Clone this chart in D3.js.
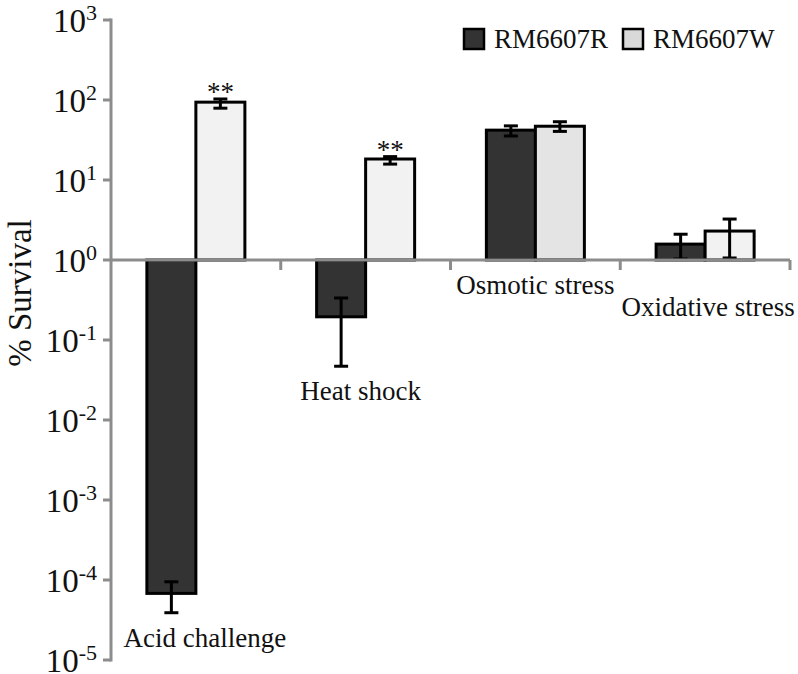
<!DOCTYPE html>
<html>
<head>
<meta charset="utf-8">
<script src="https://cdn.jsdelivr.net/npm/d3@7/dist/d3.min.js"></script>
<style>
  html, body { margin: 0; padding: 0; background: #fff; }
  svg { display: block; }
  text { font-family: "Liberation Serif", "Times New Roman", serif; fill: #111; }
</style>
</head>
<body>
<svg id="chart" width="798" height="674"></svg>
<script>
const categories = ["Acid challenge", "Heat shock", "Osmotic stress", "Oxidative stress"];
const seriesNames = ["RM6607R", "RM6607W"];
const valuesR = [6.8e-5, 0.195, 42, 1.58];
const valuesW = [94, 18.3, 47, 2.3];
const errLowR = [3.9e-5, 0.047, 35.5, 1.03];
const errHighR = [9.5e-5, 0.335, 47.5, 2.1];
const errLowW = [79, 15.8, 40.5, 1.06];
const errHighW = [103, 19.6, 53.5, 3.25];
const significanceW = ["**", "**", "", ""];
const yTickExponents = [3, 2, 1, 0, -1, -2, -3, -4, -5];

const svg = d3.select("#chart");
const axisColor = "#8c8c8c";
const darkFill = "#333333";
const lightFills = ["#f2f2f2", "#f2f2f2", "#e4e4e4", "#f2f2f2"];

const mLeft = 111, mRight = 790, mTop = 20, mBottom = 660;
const y = d3.scaleLog().domain([1e-5, 1e3]).range([mBottom, mTop]);
const x0 = d3.scaleBand().domain(categories).range([mLeft, mRight]).paddingInner(0).paddingOuter(0);
const x1 = d3.scaleBand().domain(seriesNames).range([0, x0.bandwidth()]).paddingInner(0).paddingOuter(0.732);
const base = y(1);

const rows = [];
categories.forEach((c, i) => {
  rows.push({cat: c, s: seriesNames[0], v: valuesR[i], lo: errLowR[i], hi: errHighR[i], fill: darkFill, sig: "", i});
  rows.push({cat: c, s: seriesNames[1], v: valuesW[i], lo: errLowW[i], hi: errHighW[i], fill: lightFills[i], sig: significanceW[i], i});
});

// bars
svg.append("g").selectAll("rect").data(rows).join("rect")
  .attr("x", d => x0(d.cat) + x1(d.s))
  .attr("width", x1.bandwidth())
  .attr("y", d => Math.min(y(d.v), base))
  .attr("height", d => Math.abs(y(d.v) - base))
  .attr("fill", d => d.fill)
  .attr("stroke", "#000")
  .attr("stroke-width", 3);

// error bars
const eb = svg.append("g").attr("stroke", "#000").attr("stroke-width", 3);
rows.forEach(d => {
  const cx = x0(d.cat) + x1(d.s) + x1.bandwidth() / 2;
  eb.append("line").attr("x1", cx).attr("x2", cx).attr("y1", y(d.lo)).attr("y2", y(d.hi));
  [d.lo, d.hi].forEach(v => {
    eb.append("line").attr("x1", cx - 7).attr("x2", cx + 7).attr("y1", y(v)).attr("y2", y(v));
  });
  if (d.sig) {
    svg.append("text").attr("x", cx).attr("y", y(d.hi) + 2)
      .attr("text-anchor", "middle").attr("font-size", 27).text(d.sig);
  }
});

// y axis
const ya = svg.append("g");
ya.append("line").attr("x1", mLeft).attr("x2", mLeft).attr("y1", mTop - 1.5).attr("y2", mBottom + 1.5)
  .attr("stroke", axisColor).attr("stroke-width", 3);
yTickExponents.forEach(e => {
  const ty = y(Math.pow(10, e));
  ya.append("line").attr("x1", mLeft - 8).attr("x2", mLeft).attr("y1", ty).attr("y2", ty)
    .attr("stroke", axisColor).attr("stroke-width", 3);
  const t = ya.append("text").attr("x", 97).attr("y", ty + 12).attr("text-anchor", "end").attr("font-size", 33);
  t.append("tspan").text("10");
  t.append("tspan").attr("dy", -12).attr("font-size", 22).text(String(e));
});

// x axis
const xa = svg.append("g");
xa.append("line").attr("x1", mLeft).attr("x2", mRight).attr("y1", base).attr("y2", base)
  .attr("stroke", axisColor).attr("stroke-width", 3);
categories.forEach(c => {
  const xe = x0(c) + x0.bandwidth();
  xa.append("line").attr("x1", xe).attr("x2", xe).attr("y1", base).attr("y2", base + 10)
    .attr("stroke", axisColor).attr("stroke-width", 3);
});

// category labels
categories.forEach((c, i) => {
  const lowest = Math.max(base, y(errLowR[i]), y(errLowW[i]));
  const drop = (i === categories.length - 1) ? 22 : 0;
  svg.append("text").attr("x", x0(c) + x0.bandwidth() / 2 + (i === 0 ? 9 : (i === 1 ? -5 : (i === 3 ? 3 : 0))))
    .attr("y", lowest + 34 + drop).attr("text-anchor", "middle").attr("font-size", 27).text(c);
});

// y title
svg.append("text").attr("transform", "translate(31,293) rotate(-90)")
  .attr("text-anchor", "middle").attr("font-size", 33).text("% Survival");

// legend
const legendX = [464, 623];
const legendFills = [darkFill, "#d9d9d9"];
seriesNames.forEach((s, i) => {
  svg.append("rect").attr("x", legendX[i]).attr("y", 29).attr("width", 20).attr("height", 20)
    .attr("fill", legendFills[i]).attr("stroke", "#000").attr("stroke-width", 2.5);
  svg.append("text").attr("x", legendX[i] + 30).attr("y", 48).attr("font-size", 27).text(s);
});
</script>
</body>
</html>
